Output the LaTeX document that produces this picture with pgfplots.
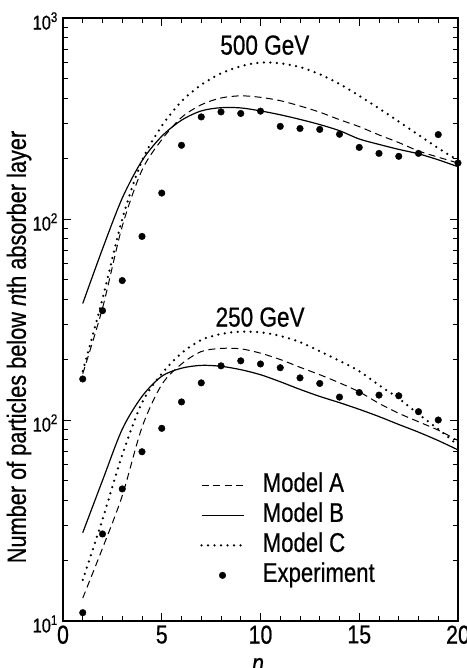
\documentclass[border=0pt]{standalone}
\usepackage{fontspec}
\setmainfont{Liberation Sans}[FakeStretch=0.82, FakeBold=0.6]
\usepackage{pgfplots}
\pgfplotsset{compat=1.18}
\pgfplotsset{
  modelA/.style={black, line width=1pt, dash pattern=on 7pt off 4.5pt, smooth, tension=0.5, mark=none},
  modelB/.style={black, line width=1.2pt, smooth, tension=0.5, mark=none},
  modelC/.style={black, line width=2.5pt, dash pattern=on 0pt off 6.5pt, line cap=round, smooth, tension=0.5, mark=none},
  expt/.style={black, only marks, mark=*, mark size=3.3pt, mark options={solid, fill=black}},
}
\tikzset{ylab/.style={anchor=east, inner sep=0pt, xshift=-5pt, yshift=-3pt, font=\fontsize{20}{22}\selectfont}}
\begin{document}
\begin{tikzpicture}
\path[use as bounding box] (-63pt,-47pt) rectangle (403pt,621pt);
\begin{axis}[
  at={(0,0)}, anchor=south west,
  scale only axis, width=395pt, height=603pt,
  xmin=0, xmax=20, ymode=log, clip=false,
  ymin=10, ymax=10000,
  xtick={0,5,10,15,20}, xticklabels={0,5,10,15,20},
  minor xtick={1,2,3,4,6,7,8,9,11,12,13,14,16,17,18,19},
  ytick={10,100,1000,10000},
  yticklabels={},
  minor ytick={20,30,40,50,60,70,80,90,200,300,400,500,600,700,800,900,2000,3000,4000,5000,6000,7000,8000,9000},
  tick align=inside,
  major tick length=8pt, minor tick length=5pt,
  axis line style={line width=1.6pt},
  every tick/.style={black, line width=0.9pt},
  xticklabel style={font=\fontsize{26}{28}\selectfont, yshift=-1pt},
  legend cell align=left,
  legend style={draw=none, fill=none, at={(rel axis cs:0.347,0.246)}, anchor=north west,
    font=\fontsize{27}{29}\selectfont, row sep=5pt, inner sep=0pt,
    nodes={inner sep=0pt, text height=19pt, text depth=6pt},
    /tikz/every odd column/.append style={column sep=18pt}},
]
% 250 GeV
\addplot[modelA, legend image code/.code={\draw[black, line width=1pt, dash pattern=on 7pt off 4.5pt] (0pt,0pt) -- (42pt,0pt);}] coordinates {
(1,13) (2,23) (3,42) (4,92) (5,150) (6,190) (7,219) (8,227) (9,226) (10,215)
(11,200) (12,183) (13,168) (14,153) (15,138) (16,121) (17,108) (18,98) (19,89) (20,79)};
\addlegendentry{Model A}
\addplot[modelB, legend image code/.code={\draw[black, line width=1.2pt] (0pt,0pt) -- (42pt,0pt);}] coordinates {
(1,27.5) (2,50) (3,90) (4,131) (5,165) (6,181) (7,187) (8,185) (9,178) (10,168)
(11,155) (12,142) (13,131) (14,122) (15,113) (16,104) (17,95) (18,87) (19,79) (20,71)};
\addlegendentry{Model B}
\addplot[modelC, legend image code/.code={\draw[black, line width=2.5pt, dash pattern=on 0pt off 6.5pt, line cap=round] (0pt,0pt) -- (42pt,0pt);}] coordinates {
(1,16) (2,32) (3,67) (4,122) (5,170) (6,215) (7,250) (8,268) (9,275) (10,273)
(11,262) (12,244) (13,220) (14,197) (15,175) (16,149) (17,128) (18,107) (19,90) (20,75)};
\addlegendentry{Model C}
\addplot[expt, legend image code/.code={\fill[black] (21pt,0pt) circle (3.3pt);}] coordinates {
(1,11.0) (2,27.1) (3,45.4) (4,69.5) (5,90.9) (6,123) (7,153) (8,186) (9,197) (10,190)
(11,182) (12,162) (13,152) (14,130) (15,137) (16,133) (17,132) (18,110) (19,100)};
\addlegendentry{Experiment}
\node[font=\fontsize{27.5}{29}\selectfont] at (rel axis cs:0.511,0.955) {500 GeV};
\node[font=\fontsize{27.5}{29}\selectfont] at (rel axis cs:0.499,0.504) {250 GeV};
\node[ylab] at (rel axis cs:0,0) {10\textsuperscript{1}};
\node[ylab] at (rel axis cs:0,0.3333) {10\textsuperscript{2}};
\node[ylab] at (rel axis cs:0,0.6667) {10\textsuperscript{2}};
\node[ylab] at (rel axis cs:0,1) {10\textsuperscript{3}};
\end{axis}
\begin{axis}[
  at={(0,0)}, anchor=south west,
  scale only axis, width=395pt, height=603pt,
  xmin=0, xmax=20, ymode=log, clip=false,
  ymin=1, ymax=1000, hide axis,
]
% 500 GeV
\addplot[modelA] coordinates {
(1,17) (2,36) (3,92) (4,175) (5,248) (6,320) (7,370) (8,400) (9,410) (10,403)
(11,388) (12,365) (13,340) (14,312) (15,288) (16,262) (17,240) (18,218) (19,203) (20,190)};
\addplot[modelB] coordinates {
(1,38) (2,71) (3,127) (4,195) (5,258) (6,310) (7,345) (8,358) (9,357) (10,345)
(11,330) (12,313) (13,295) (14,275) (15,250) (16,235) (17,222) (18,211) (19,197) (20,182)};
\addplot[modelC] coordinates {
(1,17.5) (2,40) (3,100) (4,195) (5,290) (6,385) (7,465) (8,530) (9,575) (10,600)
(11,595) (12,570) (13,525) (14,470) (15,410) (16,355) (17,305) (18,262) (19,225) (20,196)};
\addplot[expt] coordinates {
(1,16.0) (2,35.0) (3,49.4) (4,81.9) (5,134.6) (6,232.7) (7,322) (8,341) (9,335) (10,344)
(11,289) (12,282) (13,279) (14,264) (15,227) (16,212) (17,205) (18,212) (19,263) (20,190)};
\end{axis}
\node[rotate=90, font=\fontsize{26.5}{28}\selectfont] at (-44pt,274pt) {Number of particles below \textit{n}th absorber layer};
\node[anchor=base, font=\fontsize{26}{28}\selectfont] at (195pt,-51pt) {\textit{n}};
\end{tikzpicture}
\end{document}
